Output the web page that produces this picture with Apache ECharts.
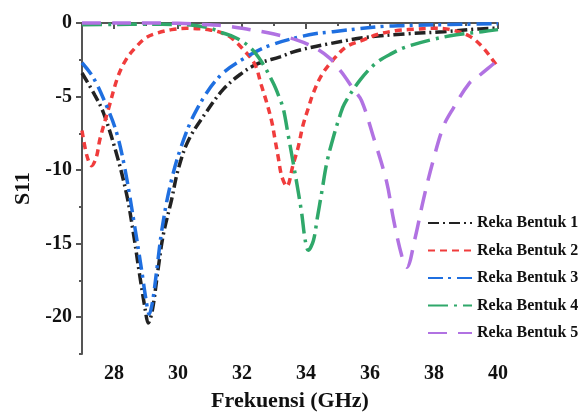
<!DOCTYPE html>
<html>
<head>
<meta charset="utf-8">
<script src="https://cdn.jsdelivr.net/npm/echarts@6/dist/echarts.min.js"></script>
<style>html,body{margin:0;padding:0;background:#fff}#c{width:583px;height:417px}</style>
</head>
<body>
<div id="c"></div>
<script>
// Data: [frequency GHz, S11 dB]
var seriesNames = ['Reka Bentuk 1', 'Reka Bentuk 2', 'Reka Bentuk 3', 'Reka Bentuk 4', 'Reka Bentuk 5'];

var rb1 = [[27.0,-3.4],[27.4,-4.9],[27.67,-6.1],[28.08,-8.9],[28.4,-11.7],[28.6,-14.2],[28.8,-17.1],[28.97,-19.4],[29.07,-20.4],[29.2,-19.5],[29.38,-16.7],[29.54,-14.4],[29.8,-12.0],[30.0,-10.0],[30.32,-8.0],[30.9,-6.0],[31.42,-4.5],[31.94,-3.5],[32.46,-2.8],[33.19,-2.3],[33.7,-1.9],[34.75,-1.4],[35.8,-1.0],[37.1,-0.74],[38.3,-0.59],[39.44,-0.4],[40.0,-0.35]];

var rb2 = [[27.0,-7.3],[27.15,-9.0],[27.3,-9.7],[27.45,-9.1],[27.56,-7.9],[27.82,-5.9],[28.13,-3.6],[28.4,-2.4],[28.7,-1.6],[29.0,-1.0],[29.33,-0.7],[29.8,-0.45],[30.27,-0.36],[31.0,-0.47],[31.4,-0.7],[31.68,-1.03],[32.04,-1.8],[32.4,-2.8],[32.6,-4.2],[32.77,-5.4],[32.93,-6.7],[33.03,-7.9],[33.13,-9.1],[33.24,-10.4],[33.4,-11.1],[33.6,-9.6],[33.76,-8.4],[33.9,-7.0],[34.07,-5.8],[34.23,-4.75],[34.5,-3.5],[34.85,-2.5],[35.27,-1.6],[35.8,-1.15],[36.2,-0.8],[36.8,-0.52],[37.35,-0.43],[38.0,-0.36],[38.55,-0.47],[39.1,-0.88],[39.5,-1.6],[39.9,-2.7],[40.0,-3.0]];

var rb3 = [[27.0,-2.7],[27.35,-3.7],[27.77,-5.65],[28.08,-7.45],[28.34,-9.9],[28.66,-14.0],[28.87,-16.9],[29.0,-18.8],[29.1,-19.8],[29.2,-19.0],[29.33,-16.9],[29.5,-14.0],[29.75,-11.1],[30.1,-8.4],[30.58,-5.9],[31.31,-3.6],[32.15,-2.3],[32.9,-1.5],[34.1,-0.8],[34.85,-0.59],[36.3,-0.25],[37.0,-0.18],[38.5,-0.1],[40.0,-0.05]];

var rb4 = [[27.0,-0.12],[28.0,-0.1],[29.0,-0.08],[30.0,-0.1],[30.4,-0.13],[31.0,-0.35],[31.3,-0.6],[31.8,-1.0],[32.25,-1.65],[32.6,-2.6],[32.98,-4.1],[33.19,-5.2],[33.3,-5.9],[33.45,-7.7],[33.6,-9.5],[33.76,-11.5],[33.87,-13.0],[33.97,-14.7],[34.07,-15.45],[34.23,-14.8],[34.35,-13.3],[34.5,-11.4],[34.65,-9.5],[34.85,-7.8],[35.06,-6.3],[35.2,-5.5],[35.7,-3.85],[36.2,-2.7],[36.7,-2.05],[37.1,-1.65],[37.9,-1.15],[38.7,-0.8],[39.5,-0.59],[40.0,-0.45]];

var rb5 = [[27.0,0],[28.0,0],[29.0,0],[30.0,-0.02],[30.8,-0.1],[31.5,-0.2],[32.3,-0.47],[33.0,-0.75],[33.7,-1.15],[34.3,-1.7],[34.75,-2.4],[34.96,-2.95],[35.2,-3.6],[35.48,-4.5],[35.74,-5.3],[36.1,-7.7],[36.52,-10.8],[36.73,-13.3],[36.99,-15.8],[37.15,-16.6],[37.4,-14.7],[37.67,-12.0],[37.98,-9.3],[38.3,-7.0],[38.6,-5.8],[39.1,-4.1],[39.4,-3.6],[39.96,-2.6],[40.0,-2.55]];

var xMajorTicks = [28, 30, 32, 34, 36, 38, 40];
var xMinorTicks = [27, 29, 31, 33, 35, 37, 39];
var yMajorTicks = [-20, -15, -10, -5, 0];
var yMinorTicks = [-22.5, -17.5, -12.5, -7.5, -2.5];

var colors = ['#222222', '#f03c3c', '#1f6fe0', '#2fa86a', '#b172e2'];
var dashes = [[11,4,2,4], [7,5], [15,5,3,6], [20,6,3,6], [19,11]];
var allData = [rb1, rb2, rb3, rb4, rb5];

var font = 'Liberation Serif';
var axisColor = '#555';

var chart = echarts.init(document.getElementById('c'), null, {renderer: 'canvas'});
var series = allData.map(function (d, i) {
  return {
    name: seriesNames[i], type: 'line', data: d, smooth: 0.35, showSymbol: false,
    clip: false, xAxisIndex: 0, yAxisIndex: 0,
    lineStyle: {color: colors[i], width: 3.5, type: dashes[i], cap: 'butt'},
    itemStyle: {color: colors[i]}
  };
});

chart.setOption({
  animation: false,
  backgroundColor: '#fff',
  grid: {left: 82, right: 85, top: 23, bottom: 60},
  legend: {
    orient: 'vertical', left: 422, top: 210, itemWidth: 44, itemHeight: 14, itemGap: 11.5,
    itemStyle: {opacity: 0, borderWidth: 0},
    textStyle: {fontFamily: font, fontWeight: 'bold', fontSize: 16, color: '#111'},
    data: seriesNames
  },
  xAxis: [{
    type: 'value', min: 27, max: 40, position: 'bottom',
    name: 'Frekuensi (GHz)', nameLocation: 'middle', nameGap: 36,
    nameTextStyle: {fontFamily: font, fontWeight: 'bold', fontSize: 22, color: '#111'},
    axisLine: {show: true, lineStyle: {color: axisColor, width: 2}},
    axisTick: {show: true, length: 6, customValues: xMajorTicks, lineStyle: {color: axisColor, width: 2}},
    axisLabel: {customValues: xMajorTicks, fontFamily: font, fontWeight: 'bold', fontSize: 20, color: '#111', margin: 10},
    splitLine: {show: false}
  }, {
    type: 'value', min: 27, max: 40, position: 'bottom',
    axisLine: {show: false},
    axisTick: {show: true, length: 3, customValues: xMinorTicks, lineStyle: {color: axisColor, width: 2}},
    axisLabel: {show: false}, splitLine: {show: false}
  }],
  yAxis: [{
    type: 'value', min: -22.5, max: 0, position: 'left',
    name: 'S11', nameLocation: 'middle', nameGap: 48,
    nameTextStyle: {fontFamily: font, fontWeight: 'bold', fontSize: 22, color: '#111'},
    axisLine: {show: true, lineStyle: {color: axisColor, width: 2}},
    axisTick: {show: true, length: 6, customValues: yMajorTicks, lineStyle: {color: axisColor, width: 2}},
    axisLabel: {customValues: yMajorTicks, fontFamily: font, fontWeight: 'bold', fontSize: 20, color: '#111', margin: 10},
    splitLine: {show: false}
  }, {
    type: 'value', min: -22.5, max: 0, position: 'left',
    axisLine: {show: false},
    axisTick: {show: true, length: 3, customValues: yMinorTicks, lineStyle: {color: axisColor, width: 2}},
    axisLabel: {show: false}, splitLine: {show: false}
  }],
  series: series
});
</script>
</body>
</html>
